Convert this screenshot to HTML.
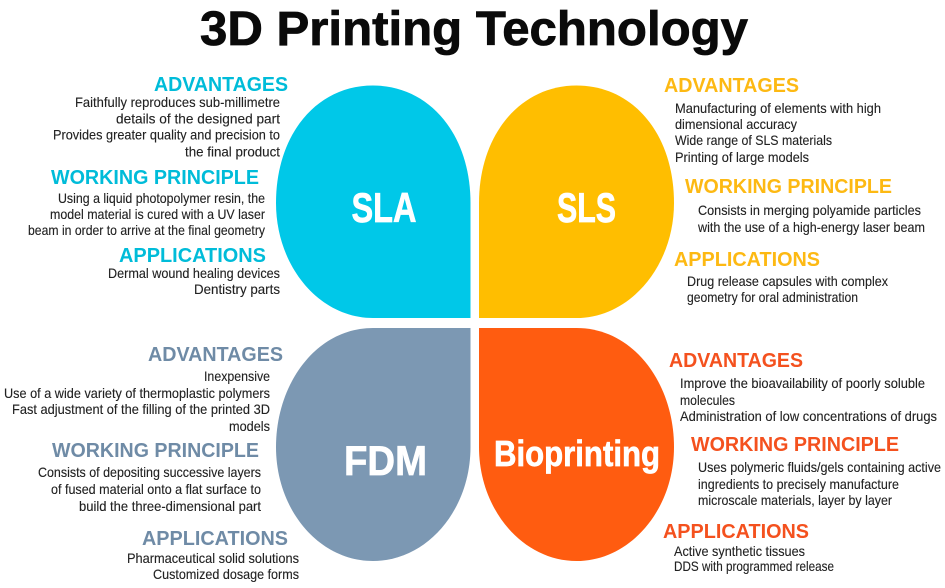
<!DOCTYPE html>
<html><head><meta charset="utf-8"><style>
html,body{margin:0;padding:0;background:#fff}
svg{display:block}
text{font-family:"Liberation Sans",sans-serif}
.h{font-size:20.5px;font-weight:bold}
.b{font-size:14px;fill:#222;stroke:#222;stroke-width:.12px}
.l{font-weight:bold;fill:#fff;stroke:#fff;stroke-width:.7px}
</style></head><body>
<svg width="945" height="588" viewBox="0 0 945 588" xmlns="http://www.w3.org/2000/svg">
<rect width="945" height="588" fill="#fff"/>
<text x="200" y="45" font-size="48" font-weight="bold" fill="#0a0a0a" stroke="#0a0a0a" stroke-width=".8" textLength="548" lengthAdjust="spacingAndGlyphs">3D Printing Technology</text>

<path fill="#00c8e8" d="M373,85.5C430,85.5 470.5,135 470.5,203L470.5,318L373,318C319,318 276,266 276,203C276,135 316,85.5 373,85.5Z"/>
<path fill="#ffbe00" d="M576.500,85.5C634,85.5 674,135 674,203C674,266 630,318 576.500,318L479,318L479,203C479,135 520,85.500 576.500,85.500Z"/>
<path fill="#7c98b3" d="M276,447C276,384 316,328 373,328L470.500,328L470.500,447C470.500,510 427,561 373,561C319,561 276,510 276,447Z"/>
<path fill="#ff5c10" d="M479,328L576.500,328C634,328 674,384 674,447C674,510 630,561 576.500,561C523,561 479,510 479,447Z"/>

<text class="l" x="351.500" y="222" font-size="42" textLength="65" lengthAdjust="spacingAndGlyphs">SLA</text>
<text class="l" x="557" y="222" font-size="42" textLength="59" lengthAdjust="spacingAndGlyphs">SLS</text>
<text class="l" x="344" y="475" font-size="42" textLength="83" lengthAdjust="spacingAndGlyphs">FDM</text>
<text class="l" x="494" y="466" font-size="36" textLength="166" lengthAdjust="spacingAndGlyphs">Bioprinting</text>

<g fill="#00bcd9">
<text class="h" x="154" y="91" textLength="134" lengthAdjust="spacingAndGlyphs">ADVANTAGES</text>
<text class="h" x="51" y="184" textLength="208" lengthAdjust="spacingAndGlyphs">WORKING PRINCIPLE</text>
<text class="h" x="119" y="262" textLength="147" lengthAdjust="spacingAndGlyphs">APPLICATIONS</text>
</g>
<text class="b" x="75" y="107" textLength="205" lengthAdjust="spacingAndGlyphs">Faithfully reproduces sub-millimetre</text>
<text class="b" x="116" y="123.500" textLength="164" lengthAdjust="spacingAndGlyphs">details of the designed part</text>
<text class="b" x="53" y="139.500" textLength="227" lengthAdjust="spacingAndGlyphs">Provides greater quality and precision to</text>
<text class="b" x="185" y="156.500" textLength="95" lengthAdjust="spacingAndGlyphs">the final product</text>
<text class="b" x="58" y="203" textLength="207" lengthAdjust="spacingAndGlyphs">Using a liquid photopolymer resin, the</text>
<text class="b" x="50" y="219" textLength="215" lengthAdjust="spacingAndGlyphs">model material is cured with a UV laser</text>
<text class="b" x="28" y="235" textLength="237" lengthAdjust="spacingAndGlyphs">beam in order to arrive at the final geometry</text>
<text class="b" x="108" y="278" textLength="172" lengthAdjust="spacingAndGlyphs">Dermal wound healing devices</text>
<text class="b" x="194" y="294" textLength="86" lengthAdjust="spacingAndGlyphs">Dentistry parts</text>

<g fill="#fdb913">
<text class="h" x="664" y="92" textLength="135" lengthAdjust="spacingAndGlyphs">ADVANTAGES</text>
<text class="h" x="685" y="193" textLength="207" lengthAdjust="spacingAndGlyphs">WORKING PRINCIPLE</text>
<text class="h" x="674" y="266" textLength="146" lengthAdjust="spacingAndGlyphs">APPLICATIONS</text>
</g>
<text class="b" x="675" y="113" textLength="206" lengthAdjust="spacingAndGlyphs">Manufacturing of elements with high</text>
<text class="b" x="675" y="129" textLength="122" lengthAdjust="spacingAndGlyphs">dimensional accuracy</text>
<text class="b" x="675" y="145" textLength="157" lengthAdjust="spacingAndGlyphs">Wide range of SLS materials</text>
<text class="b" x="675" y="162" textLength="134" lengthAdjust="spacingAndGlyphs">Printing of large models</text>
<text class="b" x="698" y="215" textLength="223" lengthAdjust="spacingAndGlyphs">Consists in merging polyamide particles</text>
<text class="b" x="698" y="232" textLength="227" lengthAdjust="spacingAndGlyphs">with the use of a high-energy laser beam</text>
<text class="b" x="687" y="286" textLength="201" lengthAdjust="spacingAndGlyphs">Drug release capsules with complex</text>
<text class="b" x="687" y="302" textLength="171" lengthAdjust="spacingAndGlyphs">geometry for oral administration</text>

<g fill="#6f8ba6">
<text class="h" x="148" y="361" textLength="135" lengthAdjust="spacingAndGlyphs">ADVANTAGES</text>
<text class="h" x="52" y="457" textLength="207" lengthAdjust="spacingAndGlyphs">WORKING PRINCIPLE</text>
<text class="h" x="142" y="545" textLength="146" lengthAdjust="spacingAndGlyphs">APPLICATIONS</text>
</g>
<text class="b" x="204" y="381" textLength="66" lengthAdjust="spacingAndGlyphs">Inexpensive</text>
<text class="b" x="4" y="398" textLength="266" lengthAdjust="spacingAndGlyphs">Use of a wide variety of thermoplastic polymers</text>
<text class="b" x="12" y="414" textLength="258" lengthAdjust="spacingAndGlyphs">Fast adjustment of the filling of the printed 3D</text>
<text class="b" x="229" y="431" textLength="41" lengthAdjust="spacingAndGlyphs">models</text>
<text class="b" x="38" y="477" textLength="223" lengthAdjust="spacingAndGlyphs">Consists of depositing successive layers</text>
<text class="b" x="51" y="494" textLength="210" lengthAdjust="spacingAndGlyphs">of fused material onto a flat surface to</text>
<text class="b" x="79" y="511" textLength="182" lengthAdjust="spacingAndGlyphs">build the three-dimensional part</text>
<text class="b" x="127" y="563" textLength="172" lengthAdjust="spacingAndGlyphs">Pharmaceutical solid solutions</text>
<text class="b" x="153" y="579" textLength="146" lengthAdjust="spacingAndGlyphs">Customized dosage forms</text>

<g fill="#f4511e">
<text class="h" x="669" y="367" textLength="134" lengthAdjust="spacingAndGlyphs">ADVANTAGES</text>
<text class="h" x="691" y="451" textLength="208" lengthAdjust="spacingAndGlyphs">WORKING PRINCIPLE</text>
<text class="h" x="663" y="538" textLength="146" lengthAdjust="spacingAndGlyphs">APPLICATIONS</text>
</g>
<text class="b" x="680" y="388" textLength="245" lengthAdjust="spacingAndGlyphs">Improve the bioavailability of poorly soluble</text>
<text class="b" x="680" y="405" textLength="55" lengthAdjust="spacingAndGlyphs">molecules</text>
<text class="b" x="680" y="421" textLength="257" lengthAdjust="spacingAndGlyphs">Administration of low concentrations of drugs</text>
<text class="b" x="698" y="472" textLength="243" lengthAdjust="spacingAndGlyphs">Uses polymeric fluids/gels containing active</text>
<text class="b" x="698" y="489" textLength="201" lengthAdjust="spacingAndGlyphs">ingredients to precisely manufacture</text>
<text class="b" x="698" y="505" textLength="194" lengthAdjust="spacingAndGlyphs">microscale materials, layer by layer</text>
<text class="b" x="674" y="556" textLength="131" lengthAdjust="spacingAndGlyphs">Active synthetic tissues</text>
<text class="b" x="674" y="571" textLength="160" lengthAdjust="spacingAndGlyphs">DDS with programmed release</text>
</svg>
</body></html>
